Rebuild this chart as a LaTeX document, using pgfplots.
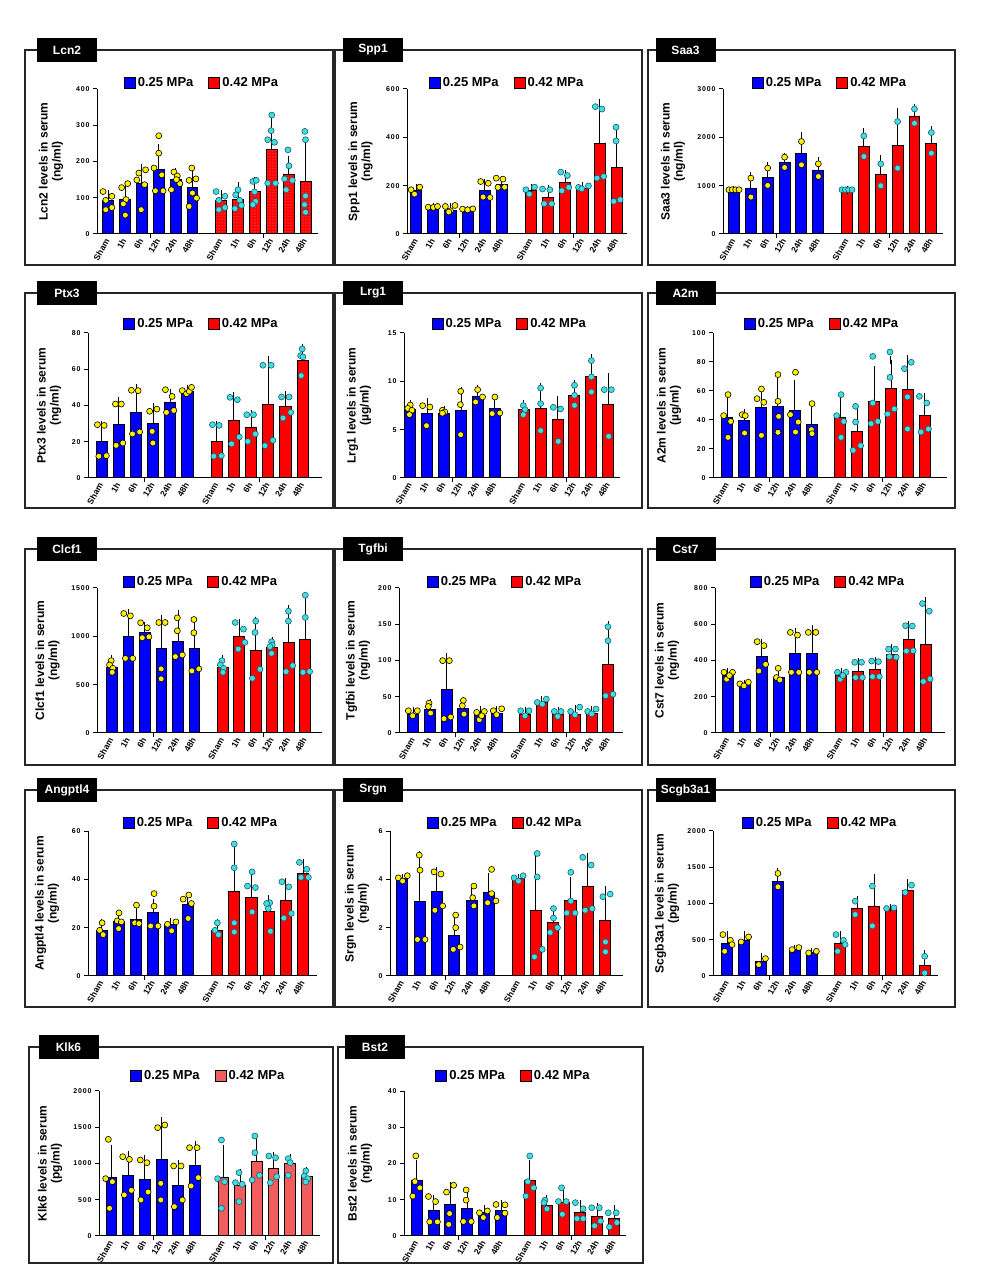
\documentclass[border=0pt]{standalone}
\usepackage{fontspec}
\setmainfont{Liberation Sans}
\newfontfamily\tickfont{Liberation Sans}[LetterSpace=12]
\usepackage{pgfplots}
\pgfplotsset{compat=1.18}
\usetikzlibrary{patterns}
\definecolor{dotY}{RGB}{255,240,0}
\definecolor{dotC}{RGB}{64,222,226}
\definecolor{dotCe}{RGB}{25,95,105}
\definecolor{redL}{RGB}{242,92,92}
\pgfplotsset{
 table/bt/.style={x expr=\thisrow{g}, y=m, y error=e, row sep=\\},
 table/rt/.style={x expr=\thisrow{g}+6.7, y=m, y error=e, row sep=\\},
 table/bd/.style={x expr=\thisrow{g}+\thisrow{o}, y=y, row sep=\\},
 table/rd/.style={x expr=\thisrow{g}+\thisrow{o}+6.7, y=y, row sep=\\},
 barbase/.style={ybar, bar width=0.65, bar shift=0pt, draw=black, line width=1pt, forget plot,
   error bars/y dir=plus, error bars/y explicit, error bars/error bar style={line width=1pt, draw=black, solid},
   error bars/error mark options={line width=1pt, mark size=4pt, draw=black}},
 bbar/.style={barbase, fill=blue},
 rbar/.style={barbase, fill=red},
 rbarL/.style={barbase, fill=redL},
 rbarP/.style={barbase, fill=red, postaction={pattern=dots, pattern color=red!30!white}},
 ydot/.style={only marks, mark=*, mark size=3pt, mark options={fill=dotY, draw=black, line width=0.6pt}, forget plot},
 cdot/.style={only marks, mark=*, mark size=3pt, mark options={fill=dotC, draw=dotCe, line width=0.6pt}, forget plot},
 legat/.style 2 args={legend style={at={(#1,1)}, anchor=center, yshift=#2pt}},
 panel/.style={
  scale only axis, height=145pt, anchor=south west,
  axis lines=left, axis line style={-, line width=1pt, black},
  enlargelimits=false, ymin=0, clip=false,
  xtick={0,1,2,3,4,5,6.7,7.7,8.7,9.7,10.7,11.7},
  xticklabels={Sham,1h,6h,12h,24h,48h,Sham,1h,6h,12h,24h,48h},
  xtick style={draw=none},
  x tick label style={rotate=60, anchor=east, font=\bfseries\fontsize{8.5}{9}\selectfont, inner sep=1.5pt},
  y tick label style={font=\tickfont\bfseries\fontsize{7}{8}\selectfont},
  ytick style={line width=1pt, black}, tick align=outside, major tick length=4pt,
  /pgf/number format/assume math mode=true, /pgf/number format/1000 sep={},
  extra x ticks={2.5,9.2}, extra x tick labels={},
  extra x tick style={xtick style={draw=black, line width=1pt}},
  legend style={draw=none, fill=none, legend columns=2, font=\bfseries\fontsize{13}{14}\selectfont,
    /tikz/every even column/.append style={column sep=13pt}, inner sep=0pt},
  legend image code/.code={\draw[#1,line width=1pt] (0pt,-5.5pt) rectangle (11pt,5.5pt);},
 }
}
\newcommand{\pbox}[6]{% x1 ytop x2 ybot name tabcenter
 \draw[line width=1.2pt, black!85] (#1,#2) rectangle (#3,#4);
 \node[fill=black, text=white, font=\bfseries\fontsize{12}{14}\selectfont, minimum width=60pt, minimum height=24pt, inner sep=0pt] at (#6,#2) {#5};}
\newcommand{\ylab}[3]{\node[rotate=90, align=center, font=\bfseries\fontsize{12}{13}\selectfont] at (#1,#2) {#3};}
\newcommand{\legs}[1][red]{\addlegendimage{fill=blue}\addlegendentry{0.25 MPa}\addlegendimage{fill=#1}\addlegendentry{0.42 MPa}}
\begin{document}
\begin{tikzpicture}[x=1pt,y=1pt]
\path[use as bounding box] (0,0) rectangle (997,1279);
% boxes and tabs
\pbox{25}{1229}{333}{1014}{Lcn2}{67}
\pbox{335}{1229}{642}{1014}{Spp1}{373}
\pbox{648}{1229}{955}{1014}{Saa3}{685.5}
\pbox{25}{986}{333}{771}{Ptx3}{67}
\pbox{335}{986}{642}{771}{Lrg1}{373}
\pbox{648}{986}{955}{771}{A2m}{685.5}
\pbox{25}{730}{333}{514}{Clcf1}{67}
\pbox{335}{730}{642}{514}{Tgfbi}{373}
\pbox{648}{730}{955}{514}{Cst7}{685.5}
\pbox{25}{489}{333}{272}{Angptl4}{67}
\pbox{335}{489}{642}{272}{Srgn}{373}
\pbox{648}{489}{955}{272}{Scgb3a1}{685.5}
\pbox{29}{232}{333}{16}{Klk6}{68.5}
\pbox{338}{232}{643}{16}{Bst2}{375}
% y labels
\ylab{51}{1117.5}{Lcn2 levels in serum\\(ng/ml)}
\ylab{360.5}{1117.5}{Spp1 levels in serum\\(ng/ml)}
\ylab{673}{1117.5}{Saa3 levels in serum\\(ng/ml)}
\ylab{49}{873.5}{Ptx3 levels in serum\\(ng/ml)}
\ylab{359}{873.5}{Lrg1 levels in serum\\(µg/ml)}
\ylab{669}{873.5}{A2m levels in serum\\(µg/ml)}
\ylab{47.5}{618.5}{Clcf1 levels in serum\\(ng/ml)}
\ylab{358}{618.5}{Tgfbi levels in serum\\(ng/ml)}
\ylab{667}{618.5}{Cst7 levels in serum\\(ng/ml)}
\ylab{47}{375.5}{Angptl4 levels in serum\\(ng/ml)}
\ylab{357}{375.5}{Srgn levels in serum\\(ng/ml)}
\ylab{667}{375.5}{Scgb3a1 levels in serum\\(pg/ml)}
\ylab{50}{115.5}{Klk6 levels in serum\\(pg/ml)}
\ylab{360}{115.5}{Bst2 levels in serum\\(ng/ml)}

% ---------------- Lcn2
\begin{axis}[panel, at={(97pt,1045pt)}, width=221pt, xmin=-0.66, xmax=12.44, ymax=400, ytick distance=100, legat={0.475}{6}]
\legs
\addplot[bbar] table[bt]{g m e\\0 91 20\\1 94 42\\2 140 43\\3 177 61\\4 149 22\\5 127 40\\};
\addplot[rbarP] table[rt]{g m e\\0 91 20\\1 94 37\\2 117 30\\3 234 79\\4 163 41\\5 145 100\\};
\addplot[ydot] table[bd]{g o y\\0 -0.3 117\\0 -0.14 93\\0 0.22 104\\0 -0.14 67\\0 0.22 73\\1 -0.2 128\\1 0.16 139\\1 0.06 95\\1 -0.1 83\\1 0.02 52\\2 -0.3 149\\2 -0.18 168\\2 0.22 177\\2 0.16 136\\2 -0.04 67\\3 -0.28 182\\3 0 223\\3 0 271\\3 0.18 163\\3 -0.2 119\\3 0.26 119\\4 -0.1 171\\4 0.1 160\\4 -0.25 122\\4 0.25 139\\4 0.05 150\\5 -0.04 182\\5 0.2 152\\5 -0.2 148\\5 0 113\\5 0.24 99\\5 -0.2 76\\};
\addplot[cdot] table[rd]{g o y\\0 -0.3 117\\0 -0.14 93\\0 0.22 104\\0 -0.14 67\\0 0.22 73\\1 0 122\\1 -0.14 108\\1 0.1 93\\1 -0.18 70\\1 0.2 79\\2 -0.12 145\\2 0.08 148\\2 -0.02 116\\2 0.04 90\\2 -0.12 81\\3 0 328\\3 -0.04 285\\3 -0.24 260\\3 0.16 253\\3 -0.24 140\\3 0.22 140\\4 -0.04 232\\4 0.02 188\\4 -0.24 152\\4 0.22 148\\4 -0.14 122\\5 -0.04 283\\5 0 260\\5 0 105\\5 -0.06 81\\5 0 60\\};
\end{axis}

% ---------------- Spp1
\begin{axis}[panel, at={(407pt,1045pt)}, width=220pt, xmin=-0.54, xmax=12.3, ymax=600, ytick distance=200, legat={0.455}{6}]
\legs
\addplot[bbar] table[bt]{g m e\\0 179 10\\1 107 4\\2 98 14\\3 96 5\\4 180 32\\5 206 18\\};
\addplot[rbar] table[rt]{g m e\\0 179 10\\1 151 36\\2 213 37\\3 190 8\\4 374 170\\5 275 162\\};
\addplot[ydot] table[bd]{g o y\\0 -0.3 183\\0 0.2 194\\0 -0.1 165\\1 -0.3 111\\1 0 110\\1 0.24 114\\2 -0.3 114\\2 0 96\\2 0.26 118\\2 -0.1 91\\3 -0.3 103\\3 0 100\\3 0.3 104\\4 -0.24 217\\4 0.2 210\\4 -0.1 153\\4 0.3 151\\5 -0.33 231\\5 0.06 227\\5 -0.23 193\\5 0.16 194\\};
\addplot[cdot] table[rd]{g o y\\0 -0.3 183\\0 0.2 194\\0 -0.1 165\\1 -0.33 186\\1 0.1 183\\1 -0.23 125\\1 0.2 125\\2 -0.27 256\\2 0.12 242\\2 -0.2 179\\2 0.2 193\\3 -0.23 193\\3 -0.04 187\\3 0.35 199\\4 -0.25 527\\4 0.14 517\\4 -0.15 231\\4 0.24 238\\5 -0.04 442\\5 -0.04 385\\5 -0.17 135\\5 0.2 142\\};
\end{axis}

% ---------------- Saa3
\begin{axis}[panel, at={(723pt,1045pt)}, width=220pt, xmin=-0.65, xmax=12.39, ymax=3000, ytick distance=1000, legat={0.486}{6}]
\legs
\addplot[bbar] table[bt]{g m e\\0 915 0\\1 950 260\\2 1170 240\\3 1487 116\\4 1672 358\\5 1308 192\\};
\addplot[rbar] table[rt]{g m e\\0 915 0\\1 1810 290\\2 1225 330\\3 1830 689\\4 2430 185\\5 1879 275\\};
\addplot[ydot] table[bd]{g o y\\0 -0.3 915\\0 -0.1 915\\0 0.1 915\\0 0.3 915\\1 0 1156\\1 0 764\\2 0 1363\\2 0 1005\\3 0 1590\\3 0 1376\\4 0 1913\\4 0 1431\\5 0 1452\\5 0 1190\\};
\addplot[cdot] table[rd]{g o y\\0 -0.3 915\\0 -0.1 915\\0 0.1 915\\0 0.3 915\\1 0 2030\\1 0 1603\\2 0 1452\\2 0 998\\3 0 2326\\3 0 1362\\4 0 2588\\4 0 2292\\5 0 2099\\5 0 1672\\};
\end{axis}

% ---------------- Ptx3
\begin{axis}[panel, at={(88pt,801pt)}, width=234pt, xmin=-0.8, xmax=12.83, ymax=80, ytick distance=20, legat={0.485}{9}]
\legs
\addplot[bbar] table[bt]{g m e\\0 20.2 9.2\\1 29.4 13.3\\2 36.2 13.5\\3 29.8 9.2\\4 41.4 5.5\\5 47.8 1.5\\};
\addplot[rbar] table[rt]{g m e\\0 20.2 9.2\\1 31.6 13.4\\2 28 7.3\\3 40.5 24.8\\4 39.2 6.4\\5 64.9 6.8\\};
\addplot[ydot] table[bd]{g o y\\0 -0.25 29.4\\0 0.14 29\\0 -0.17 12\\0 0.27 12.3\\1 -0.2 40.8\\1 0.14 40.8\\1 -0.16 18\\1 0.23 19.3\\2 -0.27 48.4\\2 0.12 48.2\\2 -0.21 24.3\\2 0.21 25.4\\3 -0.21 36.8\\3 0.21 38\\3 -0.06 25.7\\3 -0.02 19.3\\4 -0.29 48.7\\4 0.1 45\\4 -0.23 36.2\\4 0.2 37.3\\5 -0.31 48.2\\5 -0.06 46.5\\5 0.1 47.8\\5 0.23 50\\};
\addplot[cdot] table[rd]{g o y\\0 -0.25 29.4\\0 0.14 29\\0 -0.17 12\\0 0.27 12.3\\1 -0.23 44.5\\1 0.2 43.2\\1 -0.14 18.8\\1 0.31 22.6\\2 -0.25 34.9\\2 0.14 34.9\\2 -0.19 20.2\\2 0.25 24.3\\3 -0.31 62.2\\3 0.17 62.2\\3 -0.19 17.8\\3 0.27 20.8\\4 -0.23 44.7\\4 0.21 44.7\\4 -0.14 33.1\\4 0.31 36.2\\5 -0.02 71.2\\5 -0.12 67.5\\5 0.02 66.8\\5 -0.08 56.5\\};
\end{axis}

% ---------------- Lrg1
\begin{axis}[panel, at={(404pt,801pt)}, width=216pt, xmin=-0.37, xmax=12.39, ymax=15, ytick distance=5, legat={0.49}{9}]
\legs
\addplot[bbar] table[bt]{g m e\\0 7.07 0.63\\1 6.72 1.14\\2 6.66 0.35\\3 6.97 2.06\\4 8.38 0.82\\5 7.17 0.93\\};
\addplot[rbar] table[rt]{g m e\\0 7.07 0.63\\1 7.24 2.2\\2 6.03 2.0\\3 8.55 1.17\\4 10.45 1.95\\5 7.59 2.82\\};
\addplot[ydot] table[bd]{g o y\\0 0 7.55\\0 -0.15 7.2\\0 0.1 7.0\\0 -0.05 6.55\\1 -0.27 7.48\\1 0.16 7.34\\1 -0.04 5.41\\2 -0.1 7.0\\2 0.04 6.83\\2 -0.1 6.7\\3 -0.02 8.97\\3 -0.04 7.59\\3 -0.02 4.48\\4 -0.02 9.14\\4 0.27 8.38\\4 -0.14 7.86\\5 0 8.38\\5 -0.16 6.66\\5 0.29 6.72\\};
\addplot[cdot] table[rd]{g o y\\0 -0.02 7.48\\0 0.08 7.07\\0 -0.02 6.55\\1 0 9.3\\1 0 7.69\\1 0 4.9\\2 -0.25 7.31\\2 0.18 7.14\\2 0.04 3.79\\3 0 9.59\\3 0 8.55\\3 0 7.52\\4 0 12.14\\4 0 10.45\\4 0 8.9\\5 -0.24 9.14\\5 0.18 9.14\\5 0.02 4.31\\};
\end{axis}

% ---------------- A2m
\begin{axis}[panel, at={(713pt,801pt)}, width=234pt, xmin=-0.85, xmax=13.02, ymax=100, ytick distance=20, legat={0.466}{9}]
\legs
\addplot[bbar] table[bt]{g m e\\0 41.8 12.2\\1 39.5 5.3\\2 48.7 12.2\\3 49.4 16.8\\4 46.4 18.4\\5 36.8 9.6\\};
\addplot[rbar] table[rt]{g m e\\0 41.8 12.2\\1 32.2 13.8\\2 52.9 21.8\\3 62 19.6\\4 60.9 21.4\\5 43 12.9\\};
\addplot[ydot] table[bd]{g o y\\0 0.04 57.5\\0 -0.22 43\\0 0.2 39\\0 0.04 28\\1 -0.12 43.7\\1 0.06 43\\1 0.02 31\\2 0.02 61.4\\2 -0.24 54.7\\2 0.16 52.2\\2 0.02 29.4\\3 0 71.3\\3 0 52.9\\3 0.04 42.5\\3 0 31.5\\4 0.04 72.9\\4 -0.26 43.7\\4 0.2 38.6\\4 0.04 31.7\\5 0.02 51.3\\5 -0.02 33.3\\5 0.02 30.6\\};
\addplot[cdot] table[rd]{g o y\\0 0.04 57.5\\0 -0.22 43\\0 0.2 39\\0 0.04 28\\1 -0.1 49.4\\1 -0.1 38.6\\1 -0.24 19.1\\1 0.2 22.3\\2 -0.08 83.9\\2 -0.08 51.7\\2 -0.18 37.5\\2 0.22 39\\3 -0.06 86.9\\3 -0.06 69.4\\3 -0.2 44.1\\3 0.2 47.6\\4 -0.2 75.4\\4 0.2 79.8\\4 -0.02 55.9\\4 -0.02 33.8\\5 -0.32 56.3\\5 0.12 51.7\\5 -0.22 31.7\\5 0.22 33.8\\};
\end{axis}

% ---------------- Clcf1
\begin{axis}[panel, at={(97pt,546pt)}, width=225pt, xmin=-0.9, xmax=12.71, ymax=1500, ytick distance=500, legat={0.462}{6}]
\legs
\addplot[bbar] table[bt]{g m e\\0 676 86\\1 996 250\\2 1040 69\\3 875 309\\4 951 275\\5 869 288\\};
\addplot[rbar] table[rt]{g m e\\0 676 86\\1 1002 141\\2 851 306\\3 882 69\\4 934 346\\5 965 408\\};
\addplot[ydot] table[bd]{g o y\\0 -0.04 748\\0 -0.14 704\\0 0.06 669\\0 0.02 628\\1 -0.28 1236\\1 0.12 1212\\1 -0.18 772\\1 0.26 772\\2 -0.26 1140\\2 0.14 1088\\2 -0.16 985\\2 0.24 995\\3 -0.16 1143\\3 0.22 1143\\3 -0.02 663\\3 -0.02 560\\4 -0.04 1191\\4 -0.04 1057\\4 -0.16 790\\4 0.26 807\\5 -0.04 1174\\5 -0.04 1037\\5 -0.16 642\\5 0.26 663\\};
\addplot[cdot] table[rd]{g o y\\0 -0.04 748\\0 -0.14 704\\0 0.06 669\\0 0.02 628\\1 -0.24 1143\\1 0.26 1074\\1 -0.06 868\\1 0.34 937\\2 0 1157\\2 -0.04 1040\\2 -0.2 566\\2 0.26 659\\3 -0.04 944\\3 0 910\\3 -0.14 893\\3 -0.04 824\\4 -0.02 1260\\4 -0.02 1157\\4 -0.16 635\\4 0.24 697\\5 0 1425\\5 0 1195\\5 -0.14 628\\5 0.26 635\\};
\end{axis}

% ---------------- Tgfbi
\begin{axis}[panel, at={(399pt,546pt)}, width=224pt, xmin=-0.86, xmax=12.58, ymax=200, ytick distance=50, legat={0.473}{6}]
\legs
\addplot[bbar] table[bt]{g m e\\0 25.2 5.5\\1 32 9.2\\2 60.4 44.6\\3 33.4 7.8\\4 23.8 8.2\\5 27.5 4.5\\};
\addplot[rbar] table[rt]{g m e\\0 25.2 5.5\\1 42.6 3.2\\2 25.2 4.5\\3 25.2 8.2\\4 27.5 3.6\\5 93.8 54.9\\};
\addplot[ydot] table[bd]{g o y\\0 -0.3 30.7\\0 0.24 30.7\\0 -0.04 23.8\\1 -0.06 41.2\\1 -0.1 36.6\\1 0.04 27.5\\2 -0.24 99.8\\2 0.16 99.8\\2 -0.16 19.7\\2 0.24 22\\3 0 44.9\\3 -0.06 37.5\\3 0.04 26.1\\4 -0.2 28.4\\4 0.26 29.7\\4 -0.04 18.3\\4 0.1 23.8\\5 -0.2 30.7\\5 0.3 33.4\\5 0 25.2\\};
\addplot[cdot] table[rd]{g o y\\0 -0.26 30.7\\0 0.24 30.7\\0 0 23.8\\1 -0.26 42.1\\1 0.04 39.8\\1 0.28 46.7\\2 -0.24 29.7\\2 0.16 29.7\\2 -0.04 22.9\\3 -0.26 29.7\\3 0.28 35.7\\3 0 25.2\\4 -0.24 29.7\\4 0.26 33\\4 0 26.5\\5 -0.02 146.5\\5 -0.02 127.2\\5 -0.16 51.3\\5 0.28 53.5\\};
\end{axis}

% ---------------- Cst7
\begin{axis}[panel, at={(715pt,546pt)}, width=230pt, xmin=-0.75, xmax=12.83, ymax=800, ytick distance=200, legat={0.491}{6}]
\legs
\addplot[bbar] table[bt]{g m e\\0 317 18\\1 266 5\\2 421 74\\3 308 40\\4 436 123\\5 440 133\\};
\addplot[rbar] table[rt]{g m e\\0 317 18\\1 342 52\\2 348 49\\3 432 35\\4 516 79\\5 489 238\\};
\addplot[ydot] table[bd]{g o y\\0 -0.22 335\\0 0.28 335\\0 -0.06 297\\0 0.1 317\\1 -0.28 271\\1 -0.04 260\\1 0.22 280\\2 -0.26 504\\2 0.14 482\\2 -0.16 342\\2 0.24 379\\3 -0.02 357\\3 -0.12 306\\3 0.08 293\\4 -0.3 555\\4 0.12 540\\4 -0.24 335\\4 0.2 335\\5 -0.24 555\\5 0.2 555\\5 -0.18 335\\5 0.26 335\\};
\addplot[cdot] table[rd]{g o y\\0 -0.22 335\\0 0.28 335\\0 -0.06 297\\0 0.1 317\\1 -0.2 390\\1 0.2 390\\1 -0.15 306\\1 0.25 306\\2 -0.2 397\\2 0.2 394\\2 -0.15 311\\2 0.25 311\\3 -0.2 463\\3 0.2 463\\3 -0.15 421\\3 0.25 418\\4 -0.2 592\\4 0.2 590\\4 -0.15 452\\4 0.25 454\\5 -0.2 714\\5 0.2 672\\5 -0.15 284\\5 0.25 298\\};
\end{axis}

% ---------------- Angptl4
\begin{axis}[panel, at={(88pt,303pt)}, width=229pt, xmin=-0.8, xmax=12.51, ymax=60, ytick distance=20, legat={0.493}{8}]
\legs
\addplot[bbar] table[bt]{g m e\\0 18.9 3.1\\1 22.4 2.8\\2 23.5 4\\3 26.1 4.2\\4 21.4 1\\5 29.6 2.9\\};
\addplot[rbar] table[rt]{g m e\\0 18.9 3.1\\1 34.8 17.7\\2 32.4 8.4\\3 26.5 5.3\\4 31.1 7.6\\5 42.4 4.2\\};
\addplot[ydot] table[bd]{g o y\\0 0.02 22\\0 -0.12 18.9\\0 0.08 17.1\\1 0 26.1\\1 -0.1 22.8\\1 0.14 22.4\\1 -0.02 19.6\\2 0.02 29.3\\2 -0.08 22\\2 0.16 21.7\\3 0.04 34.1\\3 0.04 28.9\\3 -0.16 20.7\\3 0.27 20.7\\4 -0.18 21.4\\4 0.31 22.4\\4 0.06 18.7\\5 -0.27 31.8\\5 0.06 33.5\\5 0.21 30\\5 0.02 23.8\\};
\addplot[cdot] table[rd]{g o y\\0 0.02 22\\0 -0.12 18.9\\0 0.08 17.1\\1 0 54.6\\1 0 44.8\\1 0 22\\1 0 18.2\\2 0.04 43.1\\2 -0.23 37.2\\2 0.23 36.6\\2 0.04 26.5\\3 0.06 30.3\\3 -0.02 27.9\\3 0.1 18.5\\3 -0.12 30\\4 -0.23 39\\4 0.17 36.9\\4 -0.12 24\\4 0.31 25.9\\5 -0.21 47\\5 0.21 44.2\\5 -0.12 40.8\\5 0.31 40.8\\};
\end{axis}

% ---------------- Srgn
\begin{axis}[panel, at={(390pt,303pt)}, width=233pt, xmin=-0.71, xmax=12.73, ymax=6, ytick distance=2, legat={0.494}{8}]
\legs
\addplot[bbar] table[bt]{g m e\\0 4.04 0.02\\1 3.07 1.93\\2 3.51 0.83\\3 1.69 0.69\\4 3.14 0.41\\5 3.46 0.64\\};
\addplot[rbar] table[rt]{g m e\\0 4.04 0.02\\1 2.72 2.22\\2 2.21 0.58\\3 3.14 0.79\\4 3.7 1.21\\5 2.28 1.27\\};
\addplot[ydot] table[bd]{g o y\\0 -0.23 4.06\\0 0.02 3.93\\0 0.29 4.15\\1 -0.02 5.0\\1 0.02 4.38\\1 -0.13 1.51\\1 0.31 1.51\\2 -0.17 4.31\\2 0.23 4.22\\2 -0.12 2.72\\2 0.33 2.9\\3 0.08 2.52\\3 0.08 2.0\\3 -0.06 1.1\\3 0.33 1.2\\4 0.13 3.72\\4 0.06 3.24\\4 0.13 2.9\\5 0.15 4.41\\5 0.15 3.41\\5 -0.08 3.03\\5 0.4 3.11\\};
\addplot[cdot] table[rd]{g o y\\0 -0.25 4.06\\0 0 3.93\\0 0.27 4.15\\1 0.08 5.07\\1 0.08 4.1\\1 -0.08 0.79\\1 0.37 1.1\\2 0.02 2.79\\2 0.02 2.4\\2 -0.17 1.8\\2 0.25 2.0\\3 0.02 4.29\\3 0.02 3.1\\3 -0.21 2.61\\3 0.27 2.61\\4 -0.29 4.91\\4 0.19 4.59\\4 -0.15 2.72\\4 0.25 2.79\\5 -0.13 3.28\\5 0.29 3.39\\5 0.02 1.41\\5 0.02 1.0\\};
\end{axis}

% ---------------- Scgb3a1
\begin{axis}[panel, at={(713pt,303pt)}, width=225pt, xmin=-0.85, xmax=12.49, ymax=2000, ytick distance=500, legat={0.476}{8}]
\legs
\addplot[bbar] table[bt]{g m e\\0 447 115\\1 493 69\\2 194 69\\3 1309 120\\4 364 10\\5 323 10\\};
\addplot[rbar] table[rt]{g m e\\0 447 115\\1 931 115\\2 954 392\\3 931 5\\4 1184 92\\5 147 162\\};
\addplot[ydot] table[bd]{g o y\\0 -0.26 571\\0 0.18 493\\0 0.28 433\\0 -0.16 341\\1 -0.18 470\\1 0.26 539\\2 -0.14 157\\2 0.26 240\\3 0 1415\\3 0 1230\\4 -0.16 364\\4 0.24 392\\5 -0.18 318\\5 0.28 341\\};
\addplot[cdot] table[rd]{g o y\\0 -0.26 571\\0 0.18 493\\0 0.28 433\\0 -0.16 341\\1 -0.12 1032\\1 -0.12 848\\2 -0.1 1240\\2 -0.1 691\\3 -0.26 931\\3 0.18 940\\4 -0.16 1152\\4 0.22 1253\\5 0 272\\5 0 41\\};
\end{axis}

% ---------------- Klk6
\begin{axis}[panel, at={(99pt,43pt)}, width=221pt, xmin=-0.75, xmax=12.48, ymax=2000, ytick distance=500, legat={0.494}{15}]
\legs[redL]
\addplot[bbar] table[bt]{g m e\\0 805 400\\1 828 285\\2 782 285\\3 1057 529\\4 699 290\\5 975 276\\};
\addplot[rbarL] table[rt]{g m e\\0 805 400\\1 690 184\\2 1025 272\\3 929 174\\4 1002 78\\5 818 79\\};
\addplot[ydot] table[bd]{g o y\\0 -0.19 1333\\0 -0.35 791\\0 0.05 749\\0 -0.12 382\\1 -0.33 1094\\1 0.07 1057\\1 -0.24 566\\1 0.19 630\\2 -0.28 1048\\2 0.12 1011\\2 -0.24 497\\2 0.19 607\\3 -0.24 1494\\3 0.19 1531\\3 -0.05 726\\3 -0.05 497\\4 -0.28 966\\4 0.16 966\\4 -0.24 405\\4 0.24 497\\5 -0.33 1218\\5 0.12 1218\\5 -0.24 690\\5 0.19 805\\};
\addplot[cdot] table[rd]{g o y\\0 -0.12 1324\\0 -0.35 791\\0 0.07 749\\0 -0.12 382\\1 -0.28 736\\1 0.12 713\\1 -0.07 874\\1 -0.07 474\\2 -0.12 1379\\2 -0.12 1149\\2 -0.28 772\\2 0.16 837\\3 -0.28 1103\\3 0.12 1080\\3 -0.19 736\\3 0.19 818\\4 -0.12 1067\\4 0 1011\\4 -0.12 837\\5 -0.07 897\\5 -0.16 828\\5 0.05 791\\5 -0.07 745\\};
\end{axis}

% ---------------- Bst2
\begin{axis}[panel, at={(404pt,43pt)}, width=222pt, xmin=-0.75, xmax=12.4, ymax=40, ytick distance=10, legat={0.493}{15}]
\legs
\addplot[bbar] table[bt]{g m e\\0 15.2 4.8\\1 6.9 3.2\\2 8.7 5.1\\3 7.5 4.3\\4 6.4 1.0\\5 6.9 1.8\\};
\addplot[rbar] table[rt]{g m e\\0 15.2 4.8\\1 8.5 1.8\\2 9.2 3.9\\3 6.4 2.3\\4 5.5 2.6\\5 4.8 2.6\\};
\addplot[ydot] table[bd]{g o y\\0 -0.05 22.1\\0 -0.1 15\\0 0.19 13.3\\0 -0.23 11\\1 -0.3 10.9\\1 0.12 9.5\\1 -0.23 3.9\\1 0.23 3.9\\2 -0.23 12.1\\2 0.19 14\\2 -0.05 6.2\\2 -0.1 3.2\\3 -0.07 12.7\\3 -0.07 9.9\\3 -0.23 4\\3 0.23 4\\4 -0.28 6.4\\4 0.19 6.9\\4 -0.05 5.1\\5 -0.3 8.7\\5 0.23 8.6\\5 -0.23 5.1\\5 0.23 6.3\\};
\addplot[cdot] table[rd]{g o y\\0 0 22.1\\0 -0.12 15\\0 0.23 13.3\\0 -0.23 11\\1 -0.1 9.9\\1 0.02 7.5\\1 -0.16 9.2\\2 -0.12 13.3\\2 -0.3 9.5\\2 0.16 9.5\\2 -0.07 6\\3 -0.3 9.2\\3 0.16 7.5\\3 -0.2 4.8\\3 0.16 4.8\\4 -0.33 7.8\\4 0.12 7.8\\4 -0.16 2.8\\4 0.19 4.1\\5 -0.35 6.4\\5 0.12 6.4\\5 -0.28 2.5\\5 0.16 3.7\\};
\end{axis}
\end{tikzpicture}
\end{document}
